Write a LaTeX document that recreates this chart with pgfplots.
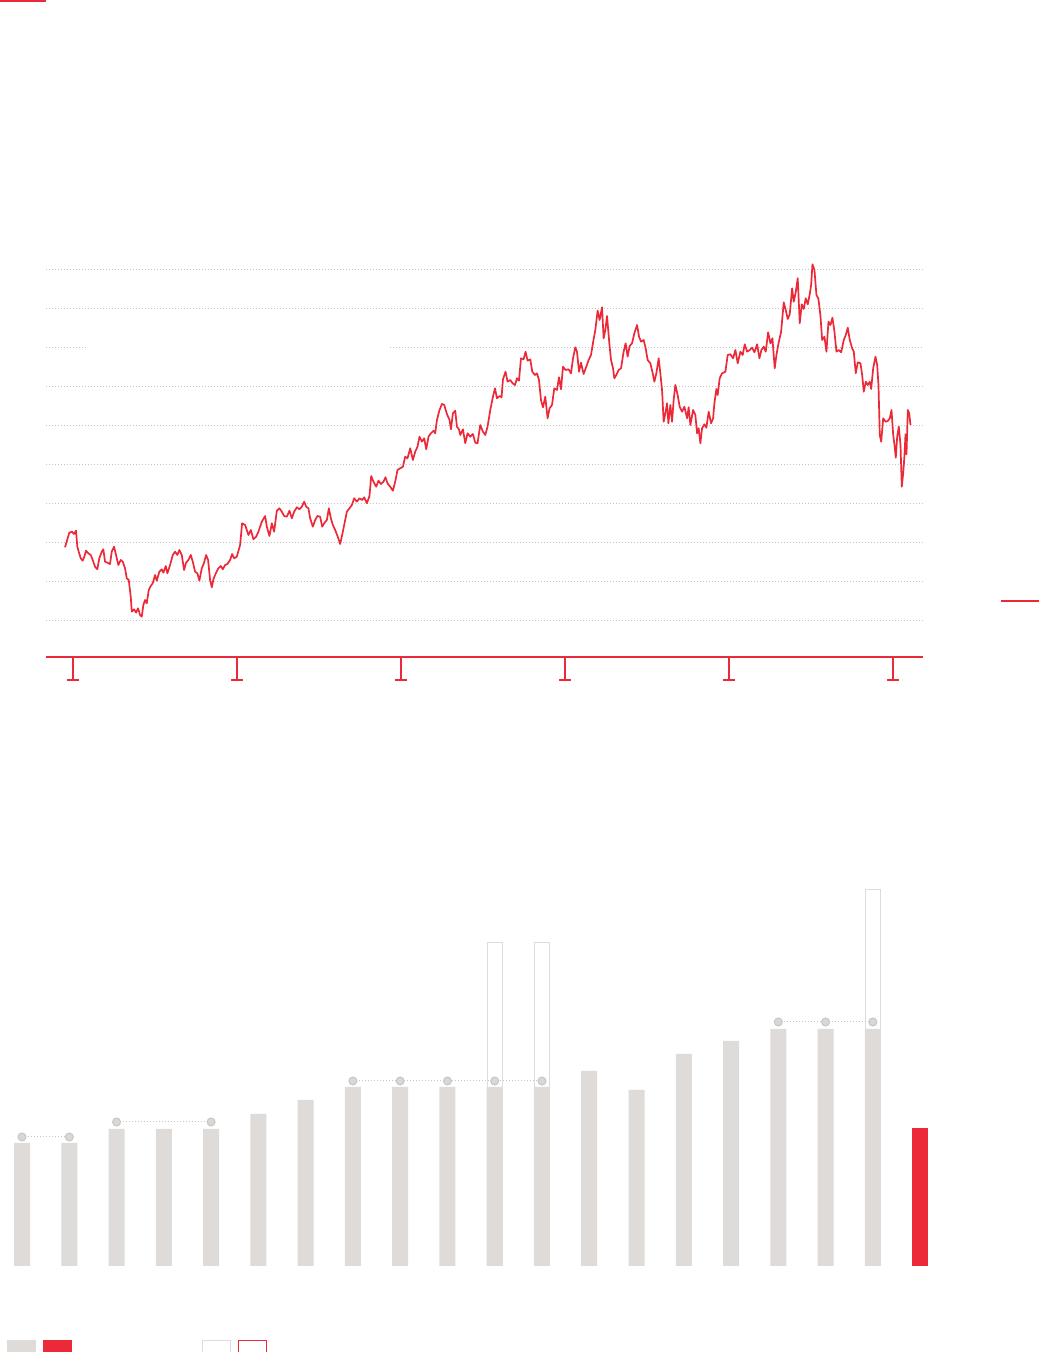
\documentclass[border=0pt]{standalone}
\usepackage{pgfplots}
\usepackage{pgfplotstable}
\pgfplotsset{compat=1.18}

\definecolor{mainred}{RGB}{235,41,56}
\definecolor{bargray}{RGB}{222,219,217}
\definecolor{dotgray}{RGB}{218,216,214}
\definecolor{gridgray}{RGB}{195,195,195}
\definecolor{outlinegray}{RGB}{222,220,219}

% share price: px = horizontal position, py = vertical position (pixels)
\pgfplotstableread{
px py
65 547.3
69.3 532.7
72 531.7
74 534
76 530.7
77.3 546.7
78.7 551.7
80.7 558.3
82.7 560.7
84.3 556.7
86 550.7
88.3 553.3
90.7 555
92.7 560
95 566.7
97.3 569.3
99.3 558.3
101.7 551.7
103.3 549.3
105 561.7
107.3 562.7
110 564
111.7 551.7
114 546.7
116 555
118.3 565
120.7 560
122.7 561.7
125 568.3
126.7 578.3
128.7 580
130.7 596.7
131.7 611.7
134 609.3
136 612.7
138 608.3
140 615
141.7 616.7
143.3 605
145 600
146.7 603.3
148.7 590
150.7 586
152.7 583.3
155 575
156.7 580.7
159.3 571.7
161.7 569.3
163.3 572.7
165.7 566
167.3 573.3
170 565
172.7 555
175 551.7
177.3 555
179.3 550
181.7 555
184 570
186 562.7
188.3 560
190.7 555
192.7 561.7
195 571.7
197.3 573.3
199.3 580.7
201.7 568.3
204 562.7
206 555
208 560
210 580
211.7 587.3
213.3 579.3
215.7 573.3
218.3 568.3
220.7 566
222.7 569.3
225 565
227.3 564
230 560
232 554
234 558.3
236.7 556.7
240 545
242 523.3
245 525
248.3 535
250.7 530
253.3 539.3
256 536.7
258.3 531.7
261.7 521.7
265 516
266.7 526.7
269.3 536
271.7 523.3
274 531.7
276.7 510.7
279.3 508.3
281.7 511.7
284 516
286.7 516.7
289.3 510.7
291.7 518.3
294 511.7
296.7 507.3
299.3 509.3
301.7 506.7
304 501.7
306 506.7
308.3 508.3
310 518.3
312.7 526.7
315 520
317.3 516
320 516.7
322 526.7
324 523.3
326.7 520
328.7 508.3
330.7 518.3
332.7 525
335 530
337.3 536
340 544
342 535
344 525
346.7 511.7
349.3 508.3
351.7 505
354 498.3
356.7 501.7
359.3 498.3
362 500
364 497.3
366.7 503.3
369.3 496
371 476
373.3 481.7
376 486.7
378.3 480.7
380.7 484
383.3 481.7
385.3 477.3
387.3 483.3
390 486.7
392.7 490.7
395 481.7
397.3 470
400 468.3
402.7 466.7
405 456.7
407.3 458.3
410 448.3
412.7 460
415 451.7
417.3 446.7
419.3 436.7
421.7 441.7
424 438.3
426 449.3
428.3 436.7
430.7 433.3
433.3 430.7
435 433.3
436.7 420
439.3 410
441.7 404
444 405
446.7 414
449.3 420
450.7 429.3
452.7 413.3
455 410.7
456.7 426.7
458.7 429.3
460 435
462.7 429.3
465 443.3
467.3 433.3
470 436.7
472.7 434
475 442.7
477.3 443.3
480 425
482.7 431.7
485 435
487.3 426.7
490 410
492.7 396.7
494.7 388.3
496.7 398.3
499.3 396
501.3 397.3
502.7 379.3
505.3 371.7
507.3 381.7
510 380
512.3 383.3
514.7 385
516.7 378.3
518.7 380.7
520.7 358.3
523.3 359.3
525.3 351.7
527.3 360.7
530 359.3
532 371.7
534.7 375
536.7 373.3
538.7 380
540.7 400
542.7 407.3
545 396.7
547.3 418.3
549.3 408.3
551.7 405
554 388.3
556.7 390
558.7 377.3
560.7 389.3
562.7 366.7
565.3 370
568.3 369.3
570.7 373.3
572.7 358.3
575 347.3
576.7 351.7
578.7 371.7
580.7 362.7
583.3 374
586 366.7
588.3 360
590.7 355
592.7 342.7
595 330
597.3 310.7
599.3 320
601.7 307.3
603.3 338.3
605 330
606.7 316
609 343.3
610.7 360
612.7 368.3
614 378.3
616 375
618.3 370
620.7 368.3
623.3 351.7
625.3 343.3
627.3 356.7
629.3 346
631.7 343.3
634 333.3
636.7 325
638.7 336.7
640.7 341.7
643.3 340
645.3 348.3
647.3 360
650 363.3
652 371.7
654 381.7
656 373.3
658.3 358.3
660 373.3
661.7 390
663.3 421.7
665 413.3
666.7 403.3
668 423.3
670 405
671.7 421.7
673.3 400
675 385
677.3 395
679.3 406.7
681.7 411.7
684 406.7
686.7 418.3
688.3 407.3
690 425
692.7 410
695 415
696.7 433.3
698.3 428.3
700 443.3
701.7 428.3
704 424.3
706 427.7
708.3 411.7
710.7 423.3
712.7 418.3
714 403.3
716 389
717.3 395
719.3 378.3
721.7 373.3
725 371.7
727.3 355
730 354.3
732.7 358.3
735 350
737.3 363.3
740 351.7
742.3 355
744.3 344.3
746.7 351.7
749.3 350
751.7 347.7
754 352.3
756.7 344.3
759 358.3
761 350
763.3 346.7
765.3 351.7
767.7 332.3
770 343.3
772 338.3
774.3 368.3
776 355
778.3 342.3
780.7 331.7
783.3 302.3
785.3 310
787.3 319
789.3 314.3
791.7 288.3
793.3 301.7
795.3 292.3
797.3 278.3
799.3 323.3
801.3 304.3
803.3 309
805.3 298.3
807.3 304.3
809.3 294.3
810.7 285
812 264.3
814 270
816 295
818 299
820 315.7
821.7 340
824 336.7
826 351.7
828 321.7
830 325
832 317.7
834 331.7
836 351.7
838.3 350
840.7 352.3
843.3 340
845.3 335
847.3 327.7
849.3 340
851.7 348.3
853.3 351.7
855.3 373.3
857.3 362.3
860 363.3
861.7 375
863.3 391.7
865.3 381.7
867.3 385
869.3 381.7
870.7 389
872.7 368.3
875 356.7
876.7 365
878 385
879.3 435
880.7 441.7
882.7 418.3
885 421.7
887.3 421
889.3 418.3
891 410
892.7 435
894 445
895.3 457.7
896.7 436.7
898.3 426.7
900 445
901.3 486.7
902.7 473.3
904 455
905 434.3
906 454.3
907.3 410
908.7 413.3
910 425
}\price

\begin{document}
\begin{tikzpicture}
\useasboundingbox (0pt,0pt) rectangle (519.5pt,676pt);

% red rules at the page edges
\fill[mainred] (0pt,676pt) rectangle (23pt,675.1pt);
\fill[mainred] (500.4pt,375.2pt) rectangle (519.5pt,376.1pt);

% ---- share price line ----
\begin{axis}[
    at={(23pt,347.5pt)}, anchor=south west,
    width=438.5pt, height=193.85pt, scale only axis,
    xmin=-0.16463, xmax=5.17988,
    ymin=0.0788, ymax=10,
    clip=false,
    axis x line*=bottom, axis y line*=left,
    x axis line style={draw=mainred, line width=1pt, -},
    y axis line style={draw=none},
    xtick={0,1,2,3,4,5}, xticklabels={},
    ytick={1,2,3,4,5,6,7,9,10}, yticklabels={},
    ytick style={draw=none},
    xtick style={draw=mainred, line width=1pt},
    tick align=outside, major tick length=11.5pt,
    ymajorgrids=true,
    grid style={gridgray, line width=0.5pt, dash pattern=on 0.5pt off 1pt},
]
\draw[gridgray, line width=0.5pt, dash pattern=on 0.5pt off 1pt]
    (axis cs:-0.16463,8) -- (axis cs:0.0793,8);
\draw[gridgray, line width=0.5pt, dash pattern=on 0.5pt off 1pt]
    (axis cs:1.933,8) -- (axis cs:5.17988,8);
\pgfplotsinvokeforeach{0,1,2,3,4,5}{
  \draw[mainred, line width=1pt] (axis cs:#1,0.0788) ++(-3pt,-11.5pt) -- ++(6pt,0pt);
}
\addplot[mainred, line width=0.85pt, line join=round]
    table[x expr={(\thisrow{px}-73)/164}, y expr={1+(621-\thisrow{py})/39.08}] {\price};
\end{axis}

% ---- yearly bars ----
\begin{axis}[
    at={(0pt,43pt)}, anchor=south west,
    width=519.5pt, height=200pt, scale only axis,
    xmin=-0.4654, xmax=21.515,
    ymin=0, ymax=40,
    clip=false, hide axis,
]
% hollow extensions
\addplot[ybar, bar width=7.6pt, bar shift=0pt, fill=white, draw=outlinegray, line width=0.5pt]
    coordinates {(10,32.3) (11,32.3) (18,37.6)};
\addplot[ybar, bar width=8pt, bar shift=0pt, fill=bargray, draw=none]
    coordinates {
    (0,12.3) (1,12.3) (2,13.7) (3,13.7) (4,13.7) (5,15.2) (6,16.6)
    (7,17.9) (8,17.9) (9,17.9) (10,17.9) (11,17.9) (12,19.5) (13,17.6)
    (14,21.2) (15,22.5) (16,23.7) (17,23.7) (18,23.7)
    };
\addplot[ybar, bar width=8pt, bar shift=0pt, fill=mainred, draw=none]
    coordinates {(19,13.8)};
% level markers
\addplot[dotgray!80!gray, line width=0.5pt, dash pattern=on 0.5pt off 1pt,
    mark=*, mark size=2pt, mark options={solid, fill=dotgray, draw=none}]
    coordinates {(0,12.9) (1,12.9)};
\addplot[dotgray!80!gray, line width=0.5pt, dash pattern=on 0.5pt off 1pt,
    mark=*, mark size=2pt, mark options={solid, fill=dotgray, draw=none}]
    coordinates {(2,14.4) (4,14.4)};
\addplot[dotgray!80!gray, line width=0.5pt, dash pattern=on 0.5pt off 1pt,
    mark=*, mark size=2pt, mark options={solid, fill=dotgray, draw=none}]
    coordinates {(7,18.5) (8,18.5) (9,18.5) (10,18.5) (11,18.5)};
\addplot[dotgray!80!gray, line width=0.5pt, dash pattern=on 0.5pt off 1pt,
    mark=*, mark size=2pt, mark options={solid, fill=dotgray, draw=none}]
    coordinates {(16,24.4) (17,24.4) (18,24.4)};
\end{axis}

% legend swatches (their labels are not shown)
\fill[bargray] (3.5pt,0pt) rectangle (18pt,6pt);
\fill[mainred] (21.5pt,0pt) rectangle (36pt,6pt);
\draw[outlinegray, line width=0.5pt] (101.25pt,-1pt) rectangle (115.25pt,5.75pt);
\draw[mainred, line width=0.5pt] (119.25pt,-1pt) rectangle (133.25pt,5.75pt);
\end{tikzpicture}
\end{document}
